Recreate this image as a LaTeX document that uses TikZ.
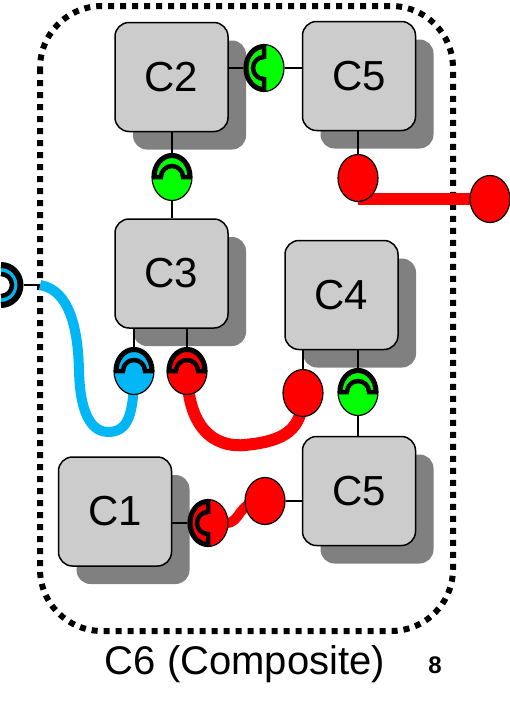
\documentclass[tikz,border=0pt]{standalone}
\usepackage{fontspec}
\setmainfont{Liberation Sans}
\usetikzlibrary{positioning,shapes,shadows,backgrounds}
\definecolor{boxgray}{RGB}{204,204,204}
\definecolor{shadegray}{RGB}{128,128,128}
\definecolor{wireblue}{RGB}{0,182,245}
\newcommand{\sockarcs}[1]{%
  \draw[line width=9pt] (#1:20 and 23.5) arc[start angle=#1, delta angle=180, x radius=20, y radius=23.5];
  \draw[line width=4.5pt] (#1:21 and 24.5) -- (#1:11) arc[start angle=#1, delta angle=180, radius=11] -- ({#1+180}:21 and 24.5);}
\tikzset{
  comp/.style={draw, line width=1.5pt, rounded corners=14pt, fill=boxgray,
    minimum width=113pt, minimum height=109pt, font=\fontsize{42}{42}\selectfont,
    drop shadow={shadow xshift=18pt, shadow yshift=-18pt, fill=shadegray, opacity=1}},
  ball/.style={draw, shape=ellipse, line width=1.2pt, inner sep=0pt,
    minimum width=40pt, minimum height=47pt, fill=#1},
  sock/.style={path picture={\begin{scope}[shift={(path picture bounding box.center)}]\sockarcs{#1}\end{scope}}},
  link/.style={line width=1.2pt},
  wire/.style={line width=#1, line cap=butt}
}
\begin{document}
\begin{tikzpicture}[x=1pt,y=1pt]
\useasboundingbox (0,0) rectangle (510,-707);
% components
\draw node (c2) at (171.5,-77) [comp]{C2};
\draw node (c5t) at (359,-76) [comp]{C5};
\draw node (c3) at (171.5,-273.5) [comp]{C3};
\draw node (c4) at (341.5,-295) [comp]{C4};
\draw node (c5b) at (359,-491) [comp]{C5};
\draw node (c1) at (115,-511.5) [comp]{C1};

% ports
\draw node foreach \n/\x/\y/\c/\a in {pa/264/68/green/90, pb/172/177/green/0,
  pc/134/371/wireblue/0, pd/187/371/red/0, pf/358/392/green/0, pi/208/523/red/90}
  (\n) at (\x,-\y) [ball=\c, sock=\a]{};
\draw node foreach \n/\x/\y in {pe/303/393, pg/358/178, ph/490/199, pj/265/501}
  (\n) at (\x,-\y) [ball=red]{};

\coordinate (bs) at (1,-285);
\coordinate (edge) at (40,-285);
\begin{scope}[shift={(bs)}]
  \fill[wireblue] (-90:21 and 22) arc[start angle=-90, delta angle=180, x radius=21, y radius=22]
    -- (90:10) arc[start angle=90, delta angle=-180, radius=10] -- cycle;
  \draw[line width=6pt] (-90:19.5 and 20) arc[start angle=-90, delta angle=180, x radius=19.5, y radius=20];
  \draw[line width=4.5pt] (-90:11) arc[start angle=-90, delta angle=180, radius=11];
\end{scope}

\draw[link] (pa.west) -- (pa.west -| c2.east)
  (pa.east) -- (pa.east -| c5t.west)
  (pb.north) -- (pb.north |- c2.south)
  (pb.south) -- (pb.south |- c3.north)
  (pc.north) -- (pc.north |- c3.south)
  (pd.north) -- (pd.north |- c3.south)
  (pe.north) -- (pe.north |- c4.south)
  (pf.north) -- (pf.north |- c4.south)
  (pf.south) -- (pf.south |- c5b.north)
  (pg.north) -- (pg.north |- c5t.south)
  (pj.east) -- (pj.east -| c5b.west)
  (pi.west) -- (pi.west -| c1.east)
  (bs) ++(22.5,0) -- (edge);

\begin{scope}[on background layer]
\draw[line width=6pt, dash pattern=on 6pt off 6pt, rounded corners=62pt] (40,-6) rectangle (453,-631);
\draw[wire=10pt, wireblue] (edge) .. controls (70,-290) and (78,-330) .. (79,-370)
  .. controls (80,-420) and (95,-432) .. (108,-432) .. controls (128,-432) and (134,-415) .. (pc.center);
\draw[wire=12pt, red] (pd.center) .. controls (188,-440) and (225,-447) .. (245,-445)
  .. controls (285,-441) and (303,-430) .. (pe.center);
\draw[wire=12pt, red] (pg.center |- ph.center) -- (ph.center);
\draw[wire=10pt, red] (pi.center) -- (226,-523) .. controls (242,-523) and (236,-501) .. (pj.center);
\end{scope}

\node (title) at (245,-674) [anchor=base, font=\fontsize{40}{40}\selectfont]{C6 (Composite)};
\node (num) at (435,-673) [anchor=base, font=\fontsize{24}{24}\selectfont\bfseries]{8};
\end{tikzpicture}
\end{document}
